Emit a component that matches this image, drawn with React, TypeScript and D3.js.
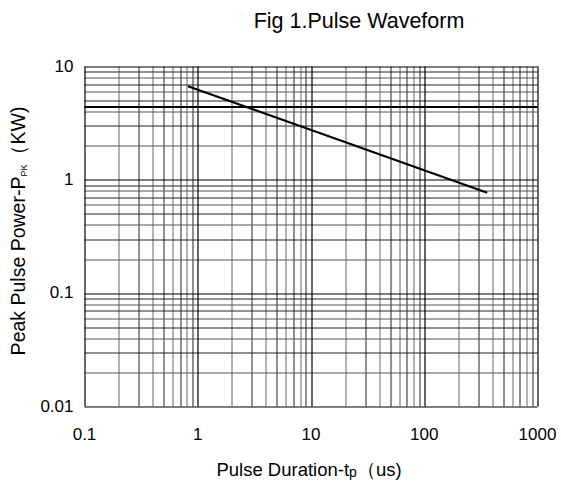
import { useEffect, useRef } from 'react';
import * as d3 from 'd3';

// Pulse rating curve
const pulseDuration = [0.82, 360]; // tp, us
const peakPower = [6.7, 0.77]; // Ppk, kW

const xTicks = [0.1, 1, 10, 100, 1000];
const yTicks = [0.01, 0.1, 1, 10];
const xTickLabels = ['0.1', '1', '10', '100', '1000'];
const yTickLabels = ['0.01', '0.1', '1', '10'];
const heavyGridLevels = [4.4];

const WIDTH = 561;
const HEIGHT = 484;
const FONT = '"Liberation Sans", Arial, sans-serif';

export default function App() {
  const svgRef = useRef<SVGSVGElement>(null);

  useEffect(() => {
    if (!svgRef.current) return;
    const svg = d3.select(svgRef.current);
    svg.selectAll('*').remove();

    const margin = { top: 66.5, right: 23.5, bottom: 77.5, left: 84.5 };
    const innerWidth = WIDTH - margin.left - margin.right;
    const innerHeight = HEIGHT - margin.top - margin.bottom;

    const g = svg
      .append('g')
      .attr('transform', `translate(${margin.left},${margin.top})`);

    const x = d3.scaleLog().domain([0.1, 1000]).range([0, innerWidth]);
    const y = d3.scaleLog().domain([0.01, 10]).range([innerHeight, 0]);

    // minor grid: 2..9 in every decade
    const minor = (lo: number, hi: number) => {
      const out: number[] = [];
      for (let d = lo; d < hi; d *= 10) {
        for (let k = 2; k <= 9; k++) out.push(+(d * k).toPrecision(3));
      }
      return out;
    };

    g.append('g')
      .selectAll('line')
      .data(minor(0.1, 1000))
      .join('line')
      .attr('x1', (d) => Math.round(x(d)) + 0.5)
      .attr('x2', (d) => Math.round(x(d)) + 0.5)
      .attr('y1', 0)
      .attr('y2', innerHeight)
      .attr('stroke', (_, i) => (i % 2 ? '#222' : '#666'))
      .attr('stroke-width', 1);

    g.append('g')
      .selectAll('line')
      .data(minor(0.01, 10))
      .join('line')
      .attr('x1', 0)
      .attr('x2', innerWidth)
      .attr('y1', (d) => Math.round(y(d)) + 0.5)
      .attr('y2', (d) => Math.round(y(d)) + 0.5)
      .attr('stroke', (_, i) => (i % 2 ? '#222' : '#555'))
      .attr('stroke-width', 1);

    // decade lines
    g.append('g')
      .selectAll('line')
      .data(xTicks)
      .join('line')
      .attr('x1', (d) => Math.round(x(d)) + 0.5)
      .attr('x2', (d) => Math.round(x(d)) + 0.5)
      .attr('y1', 0)
      .attr('y2', innerHeight)
      .attr('stroke', '#000')
      .attr('stroke-width', 1.2);

    g.append('g')
      .selectAll('line')
      .data(yTicks)
      .join('line')
      .attr('x1', 0)
      .attr('x2', innerWidth)
      .attr('y1', (d) => Math.round(y(d)) + 0.5)
      .attr('y2', (d) => Math.round(y(d)) + 0.5)
      .attr('stroke', '#000')
      .attr('stroke-width', 1.2);

    g.append('g')
      .selectAll('line')
      .data(heavyGridLevels)
      .join('line')
      .attr('x1', 0)
      .attr('x2', innerWidth)
      .attr('y1', (d) => y(d))
      .attr('y2', (d) => y(d))
      .attr('stroke', '#000')
      .attr('stroke-width', 2);

    // curve
    const pts = pulseDuration.map((t, i) => [t, peakPower[i]] as [number, number]);
    g.append('path')
      .datum(pts)
      .attr('fill', 'none')
      .attr('stroke', '#000')
      .attr('stroke-width', 2.2)
      .attr(
        'd',
        d3
          .line<[number, number]>()
          .x((d) => x(d[0]))
          .y((d) => y(d[1]))
      );

    // tick labels
    g.append('g')
      .selectAll('text')
      .data(xTicks)
      .join('text')
      .attr('x', (d) => x(d))
      .attr('y', innerHeight + 33)
      .attr('text-anchor', 'middle')
      .attr('font-family', FONT)
      .attr('font-size', 17)
      .attr('fill', '#000')
      .text((_, i) => xTickLabels[i]);

    g.append('g')
      .selectAll('text')
      .data(yTicks)
      .join('text')
      .attr('x', -11)
      .attr('y', (d) => y(d))
      .attr('dy', '0.3em')
      .attr('text-anchor', 'end')
      .attr('font-family', FONT)
      .attr('font-size', 17)
      .attr('fill', '#000')
      .text((_, i) => yTickLabels[i]);

    // title
    svg
      .append('text')
      .attr('x', 359)
      .attr('y', 28)
      .attr('text-anchor', 'middle')
      .attr('font-family', FONT)
      .attr('font-size', 21.5)
      .attr('fill', '#000')
      .text('Fig 1.Pulse Waveform');

    // x axis label
    const xl = svg
      .append('text')
      .attr('x', 309)
      .attr('y', 476)
      .attr('text-anchor', 'middle')
      .attr('font-family', FONT)
      .attr('font-size', 18.5)
      .attr('fill', '#000');
    xl.append('tspan').text('Pulse Duration-t');
    xl.append('tspan').attr('font-size', 14).attr('dy', 1).text('p');
    xl.append('tspan').attr('dy', -1).text('（us)');

    // y axis label
    const yl = svg
      .append('text')
      .attr('transform', `translate(25,231) rotate(-90)`)
      .attr('text-anchor', 'middle')
      .attr('font-family', FONT)
      .attr('font-size', 19.5)
      .attr('fill', '#000');
    yl.append('tspan').text('Peak Pulse Power-P');
    yl.append('tspan').attr('font-size', 9).attr('dy', 2).text('PK');
    yl.append('tspan').attr('dy', -2).text('（KW)');
  }, []);

  return (
    <svg
      ref={svgRef}
      width={WIDTH}
      height={HEIGHT}
      style={{ position: 'absolute', left: 0, top: 0, background: '#fff' }}
    />
  );
}
